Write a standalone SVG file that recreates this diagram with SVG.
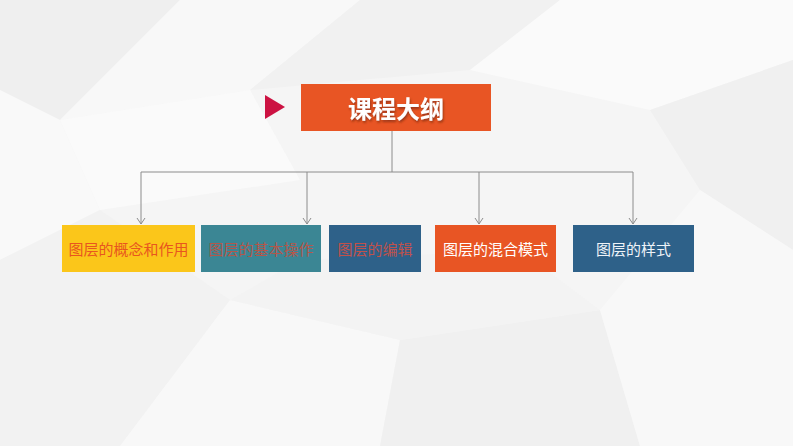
<svg xmlns="http://www.w3.org/2000/svg" width="793" height="446" viewBox="0 0 793 446">
<defs>
<marker id="arr" markerWidth="10" markerHeight="10" refX="9" refY="5" orient="auto" markerUnits="userSpaceOnUse" viewBox="0 0 10 10">
<path d="M3,1 L9,5 L3,9" fill="none" stroke="#8c8c8c" stroke-width="1"/>
</marker>
<filter id="sh" x="-10%" y="-10%" width="130%" height="140%">
<feDropShadow dx="1" dy="2" stdDeviation="1" flood-color="#7a2a10" flood-opacity="0.7"/>
</filter>
</defs>
<style>
.bg{fill:#f5f5f5}
.poly{stroke:none}
.lbl{font-family:"Noto Sans CJK SC",sans-serif;font-size:15px;text-anchor:middle;dominant-baseline:central}
.ttl{font-family:"Noto Sans CJK SC",sans-serif;font-size:24px;font-weight:bold;fill:#ffffff;text-anchor:middle;dominant-baseline:central}
.line{fill:none;stroke:#8c8c8c;stroke-width:1}
</style>
<rect class="bg" x="0" y="0" width="793" height="446"/>
<g id="background">
<polygon class="poly" fill="#efefef" points="0,0 180,0 60,120 0,90"/>
<polygon class="poly" fill="#f8f8f8" points="180,0 360,0 250,90 60,120"/>
<polygon class="poly" fill="#f1f1f1" points="360,0 560,0 470,70 250,90"/>
<polygon class="poly" fill="#fafafa" points="560,0 793,0 793,60 650,110 470,70"/>
<polygon class="poly" fill="#f0f0f0" points="650,110 793,60 793,250 700,190"/>
<polygon class="poly" fill="#f9f9f9" points="0,90 60,120 100,210 0,260"/>
<polygon class="poly" fill="#f2f2f2" points="0,260 100,210 230,300 120,446 0,446"/>
<polygon class="poly" fill="#f8f8f8" points="120,446 230,300 400,340 380,446"/>
<polygon class="poly" fill="#f0f0f0" points="380,446 400,340 600,310 640,446"/>
<polygon class="poly" fill="#f8f8f8" points="640,446 600,310 700,190 793,250 793,446"/>
<polygon class="poly" fill="#f3f3f3" points="230,300 400,340 600,310 520,250 300,260"/>
<polygon class="poly" fill="#fafafa" points="60,120 250,90 300,180 100,210"/>
</g>
<g id="connectors">
<path class="line" d="M392,131 V172"/>
<path class="line" d="M141,172 H633"/>
<path class="line" d="M141,172 V224" marker-end="url(#arr)"/>
<path class="line" d="M307,172 V224" marker-end="url(#arr)"/>
<path class="line" d="M479,172 V224" marker-end="url(#arr)"/>
<path class="line" d="M633,172 V224" marker-end="url(#arr)"/>
</g>
<g id="marker-triangle">
<polygon points="265,95 285,107 265,119" fill="#cc1242"/>
</g>
<g id="title">
<rect x="301" y="84" width="190" height="47" fill="#e85524"/>
<text class="ttl" x="396" y="107" filter="url(#sh)">课程大纲</text>
</g>
<g id="node1">
<rect x="62" y="225" width="133" height="47" fill="#fbc61a"/>
<text class="lbl" x="128.5" y="248" fill="#e8561f">图层的概念和作用</text>
</g>
<g id="node2">
<rect x="201" y="225" width="120" height="47" fill="#3b8694"/>
<text class="lbl" x="261" y="248" fill="#b3574a">图层的基本操作</text>
</g>
<g id="node3">
<rect x="329" y="225" width="92" height="47" fill="#2e6189"/>
<text class="lbl" x="375" y="248" fill="#c0514b">图层的编辑</text>
</g>
<g id="node4">
<rect x="435" y="225" width="121" height="47" fill="#e85524"/>
<text class="lbl" x="495.5" y="248" fill="#ffffff">图层的混合模式</text>
</g>
<g id="node5">
<rect x="573" y="225" width="121" height="47" fill="#2e6189"/>
<text class="lbl" x="633.5" y="248" fill="#eef3f8">图层的样式</text>
</g>
</svg>
